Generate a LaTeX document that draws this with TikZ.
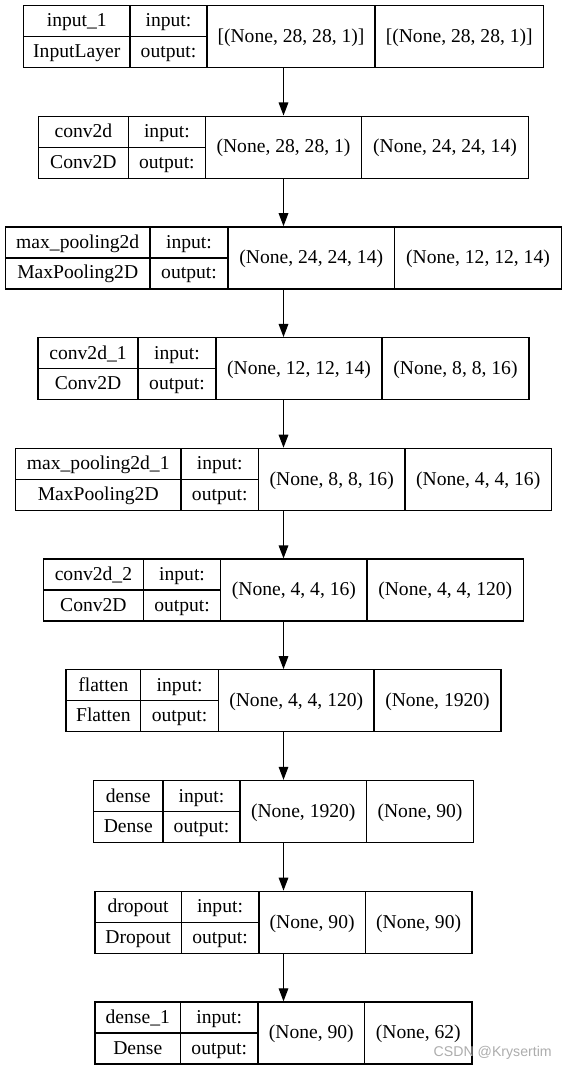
\documentclass[tikz,border=0pt]{standalone}
\usepackage{fontspec}
\setmainfont{Liberation Serif}
\newfontfamily\wmfont{Liberation Sans}
\usetikzlibrary{fit,arrows.meta}
\tikzset{
  frame/.style={draw=black, line width=1pt, inner sep=0pt, rectangle},
  frameline/.style={draw=black, line width=1pt},
  txt/.style={anchor=base, inner sep=0pt, font=\fontsize{14.7pt}{17pt}\selectfont},
  flow/.style={draw=black, line width=1pt, -{Triangle[length=9.8pt,width=7.2pt]}},
  watermark/.style={anchor=base east, inner sep=0pt, text=black!32, font=\wmfont\fontsize{10.6pt}{12pt}\selectfont}
}
% #1 id, #2 top, #3 x0, #4 x1, #5 x2, #6 x3, #7 x4
\newcommand\layerframe[7]{%
  \pgfmathsetmacro\lyb{#2+62}%
  \pgfmathsetmacro\lym{#2+31}%
  \node[frame, fit={(#3,#2) (#7,\lyb)}] (#1) {};
  \draw[frameline] (#4,#2) -- (#4,\lyb) (#5,#2) -- (#5,\lyb) (#6,#2) -- (#6,\lyb) (#3,\lym) -- (#5,\lym);
  \coordinate (#1-n) at ({(#3+#4)/2},{#2+21.5});
  \coordinate (#1-c) at ({(#3+#4)/2},{#2+52});
  \coordinate (#1-i) at ({(#4+#5)/2},{#2+21.5});
  \coordinate (#1-o) at ({(#4+#5)/2},{#2+52});
  \coordinate (#1-s) at ({(#5+#6)/2},{#2+36.8});
  \coordinate (#1-t) at ({(#6+#7)/2},{#2+36.8});
}
% #1 id, #2 name, #3 class, #4 in shape, #5 out shape
\newcommand\layertext[5]{%
  \node[txt] (#1-nt) at (#1-n) {#2};
  \node[txt] (#1-ct) at (#1-c) {#3};
  \node[txt] (#1-it) at (#1-i) {input:};
  \node[txt] (#1-ot) at (#1-o) {output:};
  \node[txt] (#1-st) at (#1-s) {#4};
  \node[txt] (#1-tt) at (#1-t) {#5};
}
\begin{document}
\begin{tikzpicture}[x=0.75pt,y=-0.75pt]
\useasboundingbox (0,0) rectangle (567,1069);
\fill[white] (0,0) rectangle (567,1069);

\layerframe{L1}{5.5}{23.5}{130}{207}{375}{543.5}
\layertext{L1}{input\_1}{InputLayer}{[(None, 28, 28, 1)]}{[(None, 28, 28, 1)]}

\layerframe{L2}{116.2}{38.5}{128.3}{205.5}{361.5}{528.5}
\layertext{L2}{conv2d}{Conv2D}{(None, 28, 28, 1)}{(None, 24, 24, 14)}

\layerframe{L3}{226.9}{5.5}{150}{228}{394.5}{561.5}
\layertext{L3}{max\_pooling2d}{MaxPooling2D}{(None, 24, 24, 14)}{(None, 12, 12, 14)}

\layerframe{L4}{337.7}{38}{138}{216}{382}{529}
\layertext{L4}{conv2d\_1}{Conv2D}{(None, 12, 12, 14)}{(None, 8, 8, 16)}

\layerframe{L5}{448.4}{15.5}{181}{258.5}{405}{551.5}
\layertext{L5}{max\_pooling2d\_1}{MaxPooling2D}{(None, 8, 8, 16)}{(None, 4, 4, 16)}

\layerframe{L6}{559.1}{43.5}{143.3}{220.8}{367}{523.5}
\layertext{L6}{conv2d\_2}{Conv2D}{(None, 4, 4, 16)}{(None, 4, 4, 120)}

\layerframe{L7}{669.8}{66}{140.7}{218.5}{374}{501}
\layertext{L7}{flatten}{Flatten}{(None, 4, 4, 120)}{(None, 1920)}

\layerframe{L8}{780.5}{93.5}{163}{240}{366.5}{473.5}
\layertext{L8}{dense}{Dense}{(None, 1920)}{(None, 90)}

\layerframe{L9}{891.3}{95}{181.2}{259}{365.3}{472}
\layertext{L9}{dropout}{Dropout}{(None, 90)}{(None, 90)}

\layerframe{L10}{1002}{95}{180.5}{258}{364.6}{472}
\layertext{L10}{dense\_1}{Dense}{(None, 90)}{(None, 62)}

\foreach \a/\b in {L1/L2,L2/L3,L3/L4,L4/L5,L5/L6,L6/L7,L7/L8,L8/L9,L9/L10}{
  \draw[flow] (\a.south) -- (\b.north);
}

\node[watermark] (wm) at (552,1056) {CSDN @Krysertim};
\end{tikzpicture}
\end{document}
